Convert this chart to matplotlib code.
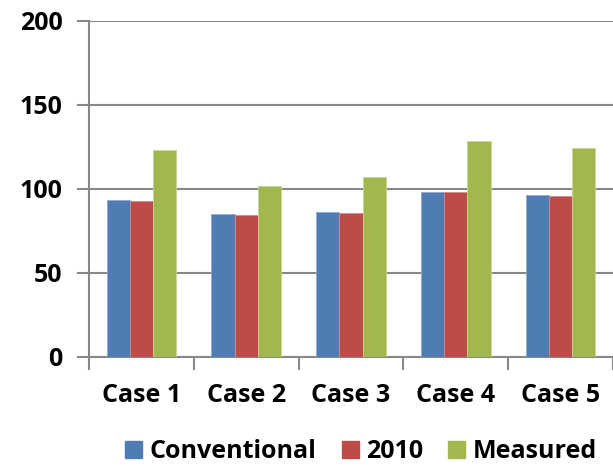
import numpy as np
import matplotlib.pyplot as plt
from matplotlib.patches import Patch

cases = ['Case 1', 'Case 2', 'Case 3', 'Case 4', 'Case 5']
conventional = [93.5, 85.0, 86.5, 98.5, 96.5]
y2010 = [93.0, 84.5, 86.0, 98.0, 96.0]
measured = [123.0, 101.5, 107.0, 128.5, 124.5]
yticks = [0, 50, 100, 150, 200]

blue = '#4F7DB3'
red = '#BE4B48'
green = '#A2B74D'
grey = '#888888'

plt.rcParams['font.family'] = ['Open Sans', 'DejaVu Sans']
plt.rcParams['font.weight'] = 'bold'
fs = 18

fig = plt.figure(figsize=(6.13, 4.66), dpi=100)
ax = fig.add_axes([89 / 613, 1 - 357 / 466, 524 / 613, 336 / 466])

x = np.arange(len(cases))
w = 0.222
ax.bar(x - w, conventional, w, color=blue, edgecolor='#8FAAD0', linewidth=0.6, zorder=3)
ax.bar(x, y2010, w, color=red, edgecolor='#D48A88', linewidth=0.6, zorder=3)
ax.bar(x + w, measured, w, color=green, edgecolor='#C6D68F', linewidth=0.6, zorder=3)

ax.set_xlim(-0.5, len(cases) - 0.5)
ax.set_ylim(0, 200)
ax.set_yticks(yticks)
ax.set_yticklabels([str(t) for t in yticks], fontsize=fs, fontweight='bold')
ax.yaxis.grid(True, color=grey, linewidth=1.5, zorder=0)

# category labels in the middle, tick marks on the boundaries
ax.set_xticks(x)
ax.set_xticklabels(cases, fontsize=fs, fontweight='bold')
ax.tick_params(axis='x', length=0, pad=19)
ax.set_xticks(np.arange(len(cases) + 1) - 0.5, minor=True)
ax.tick_params(axis='x', which='minor', length=9, width=1.5, color=grey)
ax.tick_params(axis='y', length=9, width=1.5, color=grey, pad=10)

for s in ['top', 'right']:
    ax.spines[s].set_visible(False)
for s in ['left', 'bottom']:
    ax.spines[s].set_color(grey)
    ax.spines[s].set_linewidth(1.5)

handles = [Patch(color=blue), Patch(color=red), Patch(color=green)]
fig.legend(handles, ['Conventional', '2010', 'Measured'], loc='center',
           bbox_to_anchor=(361 / 613, 1 - 452 / 466), ncol=3, frameon=False,
           prop={'size': fs, 'weight': 'bold'}, handlelength=0.68,
           handleheight=0.68, handletextpad=0.3, columnspacing=1.0)

fig.savefig('out.png', dpi=100)
